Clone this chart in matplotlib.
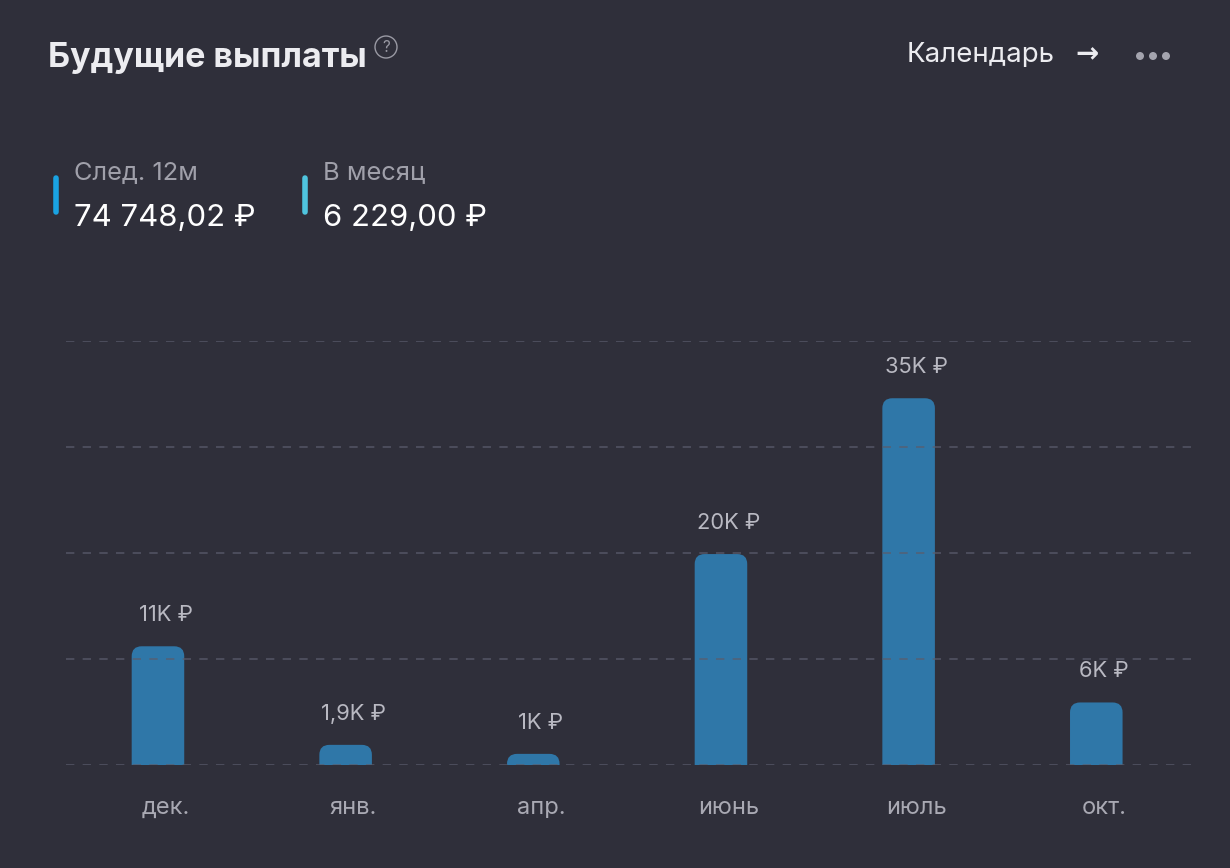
import matplotlib.pyplot as plt
from matplotlib.patches import FancyBboxPatch, Circle
from matplotlib.transforms import ScaledTranslation

# data
months = ['дек.', 'янв.', 'апр.', 'июнь', 'июль', 'окт.']
payouts = [11200, 1900, 1050, 19900, 34600, 5900]
bar_labels = ['11K ₽', '1,9K ₽', '1K ₽', '20K ₽', '35K ₽', '6K ₽']
grid_levels = [0, 10000, 20000, 30000, 40000]

summary_titles = ['След. 12м', 'В месяц']
summary_values = ['74 748,02 ₽', '6 229,00 ₽']
summary_colors = ['#1aa3e2', '#4fc4de']

BG = '#2f2f3a'
BAR = '#2f77a8'
plt.rcParams['font.family'] = ['Inter', 'DejaVu Sans']

fig = plt.figure(figsize=(12.3, 8.68), dpi=100, facecolor=BG)
ax = fig.add_axes([66 / 1230, 103 / 868, 1126 / 1230, 424 / 868])
ax.set_facecolor(BG)
ax.set_xlim(-0.49, 5.51)
ax.set_ylim(0, 40000)


def px(x, y):
    # pixel position (from top-left) -> inches for dpi_scale_trans
    return (x / 100, (868 - y) / 100)


# gridlines
for g in grid_levels:
    ax.axhline(g, color='#5a5c6c', lw=1.2, ls=(0, (5, 5)), zorder=3, alpha=0.8)

# rounded bars
width = 0.28
px_x = 1126 / 6.0          # pixels per x unit
px_y = 424 / 40000.0       # pixels per y unit
radius_px = 10
aspect = (1 / px_y) / (1 / px_x)
for i, v in enumerate(payouts):
    r = radius_px / px_x
    y0 = -radius_px / px_y
    box = FancyBboxPatch((i - width / 2, y0), width, v - y0,
                         boxstyle=f'round,pad=0,rounding_size={r}',
                         mutation_aspect=aspect,
                         fc=BAR, ec='none', zorder=2)
    ax.add_patch(box)
    ax.annotate(bar_labels[i], (i, v), xytext=(5.5, 22.5), textcoords='offset points',
                ha='center', va='center', fontsize=15.8, color='#b9b9c2',
                annotation_clip=False)

ax.set_xticks(range(len(months)))
ax.set_xticklabels(months, fontsize=17, color='#a9a9b3')
ax.tick_params(axis='x', length=0, pad=23)
ax.set_yticks([])
for s in ax.spines.values():
    s.set_visible(False)
# nudge month labels right like the reference
for lbl in ax.get_xticklabels():
    lbl.set_transform(lbl.get_transform() + ScaledTranslation(0.08, 0, fig.dpi_scale_trans))

# header
fig.text(48 / 1230, 1 - 58 / 868, 'Будущие выплаты', fontsize=24.5, fontweight='bold',
         color='#ececf0', ha='left', va='center')
fig.add_artist(Circle(px(386, 47), 0.11, transform=fig.dpi_scale_trans,
                      fc='none', ec='#9a9aa4', lw=1))
fig.text(386 / 1230, 1 - 47 / 868, '?', fontsize=11, color='#9a9aa4',
         ha='center', va='center')
fig.text(907 / 1230, 1 - 55 / 868, 'Календарь', fontsize=19.9, color='#ececf0',
         ha='left', va='center')
fig.text(1087 / 1230, 1 - 54 / 868, '→', fontsize=20, fontweight='bold', color='#ececf0',
         ha='center', va='center', family=['DejaVu Sans'])
for dx in [1140, 1153, 1166]:
    fig.add_artist(Circle(px(dx, 56), 0.04, transform=fig.dpi_scale_trans,
                          fc='#a4a4ae', ec='none'))

# summary blocks
for x_bar, title, value, col in zip([56, 305], summary_titles, summary_values, summary_colors):
    fig.add_artist(plt.Line2D([x_bar / 1230, x_bar / 1230], [1 - 178 / 868, 1 - 212 / 868],
                              transform=fig.transFigure, color=col, lw=4,
                              solid_capstyle='round'))
    fig.text((x_bar + 18) / 1230, 1 - 173 / 868, title, fontsize=18.3, color='#a0a0aa',
             ha='left', va='center')
    fig.text((x_bar + 18) / 1230, 1 - 218 / 868, value, fontsize=22.4, color='#ffffff',
             ha='left', va='center')

fig.savefig('out.png', dpi=100, facecolor=BG)
